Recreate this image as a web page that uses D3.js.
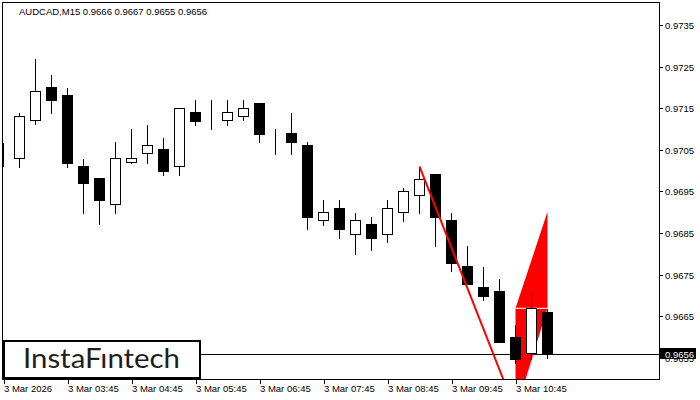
<!DOCTYPE html>
<html>
<head>
<meta charset="utf-8">
<script src="https://cdn.jsdelivr.net/npm/d3@7"></script>
<style>
  html, body { margin: 0; padding: 0; background: #fff; }
  svg { display: block; }
  text { font-family: "Liberation Sans", Arial, sans-serif; }
</style>
</head>
<body>
<svg id="chart" width="700" height="400"></svg>
<script>
// ---- data ----
const symbolTitle = "AUDCAD,M15  0.9666 0.9667 0.9655 0.9656";
const timeLabels = ["3 Mar 2026", "3 Mar 03:45", "3 Mar 04:45", "3 Mar 05:45", "3 Mar 06:45",
                    "3 Mar 07:45", "3 Mar 08:45", "3 Mar 09:45", "3 Mar 10:45"];
const timeTickIndex = [0, 4, 8, 12, 16, 20, 24, 28, 32];
const priceTicks = [0.9735, 0.9725, 0.9715, 0.9705, 0.9695, 0.9685, 0.9675, 0.9665, 0.9655];
const lastPrice = 0.9656;

const openP  = [0.97021, 0.97030, 0.97121, 0.97200, 0.97181, 0.97010, 0.96982, 0.96919, 0.97020, 0.97042,
                0.97052, 0.97010, 0.97140, 0.97130, 0.97121, 0.97131, 0.97163, 0.97080, 0.97090, 0.97062,
                0.96881, 0.96910, 0.96848, 0.96872, 0.96848, 0.96900, 0.96941, 0.96992, 0.96881, 0.96771,
                0.96720, 0.96711, 0.96599, 0.96561, 0.9666];
const highP  = [0.97069, 0.97142, 0.97270, 0.97232, 0.97200, 0.97030, 0.96984, 0.97071, 0.97102, 0.97112,
                0.97081, 0.97150, 0.97172, 0.97172, 0.97172, 0.97172, 0.97163, 0.97102, 0.97140, 0.97071,
                0.96932, 0.96932, 0.96900, 0.96891, 0.96932, 0.96961, 0.97010, 0.96992, 0.96900, 0.96821,
                0.96771, 0.96742, 0.96631, 0.96711, 0.9667];
const lowP   = [0.97012, 0.97009, 0.97111, 0.97139, 0.97009, 0.96899, 0.96871, 0.96899, 0.97019, 0.97019,
                0.96990, 0.96990, 0.97110, 0.97101, 0.97110, 0.97121, 0.97069, 0.97041, 0.97041, 0.96860,
                0.96870, 0.96839, 0.96800, 0.96810, 0.96829, 0.96880, 0.96899, 0.96819, 0.96759, 0.96728,
                0.96690, 0.96589, 0.96538, 0.96548, 0.9655];
const closeP = [0.97021, 0.97131, 0.97191, 0.97170, 0.97019, 0.96969, 0.96930, 0.97030, 0.97030, 0.97061,
                0.97000, 0.97150, 0.97120, 0.97130, 0.97140, 0.97150, 0.97089, 0.97080, 0.97069, 0.96889,
                0.96900, 0.96860, 0.96881, 0.96839, 0.96910, 0.96951, 0.96981, 0.96889, 0.96779, 0.96728,
                0.96699, 0.96589, 0.96548, 0.96669, 0.9656];

// pattern drawing (index, price)
const poleLine   = [[26, 0.97010], [33, 0.96326]];
const flagUpper  = [[32, 0.96669], [34, 0.96901], [34, 0.96669]];
const flagLower  = [[32, 0.96669], [34, 0.96669], [32, 0.96420]];
const flagBase   = [[32, 0.96669], [34, 0.96669]];

// ---- layout ----
const svg = d3.select("#chart");
const plot = { left: 2.5, top: 2.5, right: 659.5, bottom: 379.5 };

const x = d3.scaleLinear().domain([0, 34]).range([3.5, 547.5]);
const y = d3.scaleLinear().domain([0.9735, 0.9655]).range([25, 357.8]);
const py = v => Math.round(y(v)) + 0.5;

svg.append("defs").append("clipPath").attr("id", "plotClip")
  .append("rect").attr("x", 3).attr("y", 3).attr("width", 656).attr("height", 376);

const g = svg.append("g").attr("clip-path", "url(#plotClip)");

// current price line
g.append("line")
  .attr("x1", plot.left).attr("x2", plot.right)
  .attr("y1", py(lastPrice)).attr("y2", py(lastPrice))
  .attr("stroke", "#000").attr("stroke-width", 1).attr("shape-rendering", "crispEdges");

// flag polygons (behind candles)
const lineGen = d3.line().x(d => x(d[0])).y(d => y(d[1]));
[flagUpper, flagLower].forEach(poly => {
  g.append("path").attr("d", lineGen(poly) + "Z").attr("fill", "#ff0000").attr("stroke", "none");
});
g.append("path").attr("d", lineGen(flagBase))
  .attr("stroke", "#fff").attr("stroke-width", 1).attr("fill", "none");

// candles
const idx = d3.range(openP.length);
const cg = g.append("g").attr("shape-rendering", "crispEdges");
cg.selectAll("line.wick").data(idx).join("line").attr("class", "wick")
  .attr("x1", i => x(i)).attr("x2", i => x(i))
  .attr("y1", i => py(highP[i])).attr("y2", i => py(lowP[i]))
  .attr("stroke", "#000").attr("stroke-width", 1);
cg.selectAll("rect.body").data(idx).join("rect").attr("class", "body")
  .attr("x", i => x(i) - 5)
  .attr("width", 10)
  .attr("y", i => py(Math.max(openP[i], closeP[i])))
  .attr("height", i => py(Math.min(openP[i], closeP[i])) - py(Math.max(openP[i], closeP[i])))
  .attr("fill", i => closeP[i] < openP[i] ? "#000" : "#fff")
  .attr("stroke", "#000").attr("stroke-width", 1);

// pole line (on top)
g.append("path").attr("d", lineGen(poleLine))
  .attr("stroke", "#ff0000").attr("stroke-width", 2).attr("fill", "none");

// plot border
svg.append("rect")
  .attr("x", plot.left).attr("y", plot.top)
  .attr("width", plot.right - plot.left).attr("height", plot.bottom - plot.top)
  .attr("fill", "none").attr("stroke", "#000").attr("stroke-width", 1)
  .attr("shape-rendering", "crispEdges");

// y axis
const yAxis = d3.axisRight(y).tickValues(priceTicks).tickFormat(d3.format(".4f")).tickSize(3);
const ya = svg.append("g").attr("transform", `translate(${plot.right},0)`).call(yAxis);
ya.select(".domain").remove();
ya.selectAll(".tick").attr("transform", d => `translate(0,${py(d)})`);
ya.selectAll(".tick line").attr("stroke", "#000").attr("shape-rendering", "crispEdges");
ya.selectAll(".tick text").attr("x", 5.5).attr("dy", "0.34em")
  .attr("fill", "#000").style("font-size", "9.5px").style("font-family", '"Liberation Sans", Arial, sans-serif');

// last price label
svg.append("rect").attr("x", 660).attr("y", 348).attr("width", 36).attr("height", 11).attr("fill", "#000");
svg.append("text").attr("x", 665).attr("y", py(lastPrice)).attr("dy", "0.34em")
  .attr("fill", "#fff").style("font-size", "9.5px").text(d3.format(".4f")(lastPrice));

// x axis
const xAxis = d3.axisBottom(x).tickValues(timeTickIndex)
  .tickFormat((d, i) => timeLabels[i]).tickSize(4);
const xa = svg.append("g").attr("transform", `translate(0,${plot.bottom})`).call(xAxis);
xa.select(".domain").remove();
xa.selectAll(".tick line").attr("stroke", "#000").attr("shape-rendering", "crispEdges");
xa.selectAll(".tick text").attr("text-anchor", "start").attr("x", 0).attr("y", 12.5).attr("dy", 0)
  .attr("fill", "#000").style("font-size", "9.5px").style("font-family", '"Liberation Sans", Arial, sans-serif');

// title
svg.append("text").attr("x", 19).attr("y", 15).attr("fill", "#000")
  .style("font-size", "9.5px").text(symbolTitle);

// logo
svg.append("rect").attr("x", 4).attr("y", 341).attr("width", 196).attr("height", 37)
  .attr("fill", "#fff").attr("stroke", "#000").attr("stroke-width", 2);
svg.append("text").attr("x", 23).attr("y", 368)
  .attr("textLength", 157).attr("lengthAdjust", "spacingAndGlyphs")
  .style("font-family", "Lato, 'Open Sans', sans-serif").style("font-size", "26px")
  .attr("fill", "#1e1e1e").text("InstaF\u0131ntech");
</script>
</body>
</html>
